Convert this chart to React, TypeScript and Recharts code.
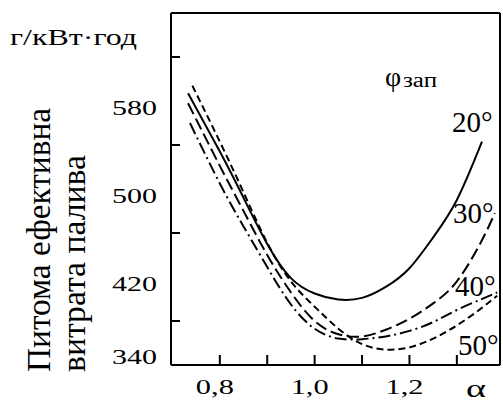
import { Line, LineChart, ReferenceLine, XAxis, YAxis } from "recharts";

// specific fuel consumption vs excess air ratio, for four ignition angles
const alpha20 = [0.733, 0.8, 0.85, 0.9, 0.95, 1.0, 1.05, 1.1, 1.15, 1.2, 1.25, 1.3, 1.353];
const sfc20 = [587, 534, 492, 450, 419, 405, 399.5, 401, 411, 428, 456, 490, 543];

const alpha30 = [0.733, 0.8, 0.85, 0.9, 0.95, 1.0, 1.05, 1.1, 1.15, 1.2, 1.25, 1.3, 1.35, 1.38];
const sfc30 = [578, 521, 480, 440, 406, 380, 368, 366, 372, 382, 396, 416, 451, 478];

const alpha40 = [0.737, 0.8, 0.85, 0.9, 0.95, 1.0, 1.05, 1.1, 1.15, 1.2, 1.25, 1.3, 1.35, 1.385];
const sfc40 = [560, 505, 466, 429, 395, 373, 364, 363.5, 366, 371, 379, 390, 399.5, 406];

const alpha50 = [0.742, 0.8, 0.85, 0.9, 0.95, 1.0, 1.05, 1.1, 1.15, 1.2, 1.25, 1.3, 1.35, 1.385];
const sfc50 = [594, 543, 497, 451, 416, 393, 373, 359, 354, 356, 364, 376, 391, 403];

const xTicks = [0.8, 0.9, 1.0, 1.1, 1.2, 1.3];
const xLabels: Record<string, string> = { "0.8": "0,8", "1": "1,0", "1.2": "1,2" };
const yTicks = [340, 380, 420, 460, 500, 540, 580, 620];
const yLabels = [340, 420, 500, 580];

const X_MIN = 0.697;
const X_MAX = 1.391;
const Y_MIN = 340;
const Y_MAX = 660;

const toRows = (xs: number[], ys: number[]) => xs.map((a, i) => ({ a, v: ys[i] }));

const series = [
  { name: "20", data: toRows(alpha20, sfc20), dash: undefined },
  { name: "30", data: toRows(alpha30, sfc30), dash: "12 5" },
  { name: "40", data: toRows(alpha40, sfc40), dash: "12 4 2 4" },
  { name: "50", data: toRows(alpha50, sfc50), dash: "7 4" },
];

function XTick(props: any) {
  const { x, y, payload } = props;
  const label = xLabels[String(payload.value)];
  return (
    <g>
      <line x1={x} y1={y} x2={x} y2={y - 10} stroke="#000" strokeWidth={2} />
      {label && (
        <text x={x - 5} y={y + 29} textAnchor="middle" fontSize={22} textLength={38} lengthAdjust="spacingAndGlyphs">
          {label}
        </text>
      )}
    </g>
  );
}

function YTick(props: any) {
  const { x, y, payload } = props;
  if (yLabels.includes(payload.value)) {
    const dy = payload.value === 340 ? -1 : 14;
    return (
      <text x={x - 14} y={y + dy} textAnchor="end" fontSize={22} textLength={45} lengthAdjust="spacingAndGlyphs">
        {payload.value}
      </text>
    );
  }
  return <line x1={x} y1={y} x2={x + 9} y2={y} stroke="#000" strokeWidth={2} />;
}

export default function App() {
  return (
    <div className="sfc-chart" style={{ position: "absolute", left: 0, top: 0, background: "#fff" }}>
      <style>{`.sfc-chart text { font-family: "Liberation Serif" !important; fill: #000 !important; }`}</style>
      <LineChart width={503} height={405} margin={{ top: 13, right: 3, bottom: 0, left: 0 }}>
        <XAxis
          type="number"
          dataKey="a"
          domain={[X_MIN, X_MAX]}
          allowDataOverflow
          ticks={xTicks}
          interval={0}
          height={40}
          tickLine={false}
          tickSize={0}
          tickMargin={0}
          tick={<XTick />}
          axisLine={{ stroke: "#000", strokeWidth: 2 }}
        />
        <YAxis
          type="number"
          domain={[Y_MIN, Y_MAX]}
          allowDataOverflow
          ticks={yTicks}
          interval={0}
          width={171}
          tickLine={false}
          tickSize={0}
          tickMargin={0}
          tick={<YTick />}
          axisLine={{ stroke: "#000", strokeWidth: 2 }}
        />
        <ReferenceLine y={Y_MAX} stroke="#000" strokeWidth={2} />
        <ReferenceLine x={X_MAX} stroke="#000" strokeWidth={2} />
        {series.map((s) => (
          <Line
            key={s.name}
            data={s.data}
            dataKey="v"
            type="natural"
            stroke="#000"
            strokeWidth={2}
            strokeDasharray={s.dash}
            dot={false}
            activeDot={false}
            isAnimationActive={false}
          />
        ))}
        <text x={10} y={45} fontSize={24} textLength={127} lengthAdjust="spacingAndGlyphs">
          г/кВт·год
        </text>
        <text x={50} y={372} transform="rotate(-90, 50, 372)" fontSize={34} textLength={264} lengthAdjust="spacingAndGlyphs">
          Питома ефективна
        </text>
        <text x={85} y={372} transform="rotate(-90, 85, 372)" fontSize={34} textLength={217} lengthAdjust="spacingAndGlyphs">
          витрата палива
        </text>
        <text x={466} y={397} fontSize={26} textLength={20} lengthAdjust="spacingAndGlyphs">
          α
        </text>
        <text x={385} y={86} fontSize={28}>
          φ
        </text>
        <text x={403} y={87} fontSize={20} textLength={34} lengthAdjust="spacingAndGlyphs">
          зап
        </text>
        <text x={452} y={132} fontSize={29}>
          20°
        </text>
        <text x={453} y={223} fontSize={29}>
          30°
        </text>
        <text x={455} y={296} fontSize={29}>
          40°
        </text>
        <text x={458} y={355} fontSize={29}>
          50°
        </text>
      </LineChart>
    </div>
  );
}
